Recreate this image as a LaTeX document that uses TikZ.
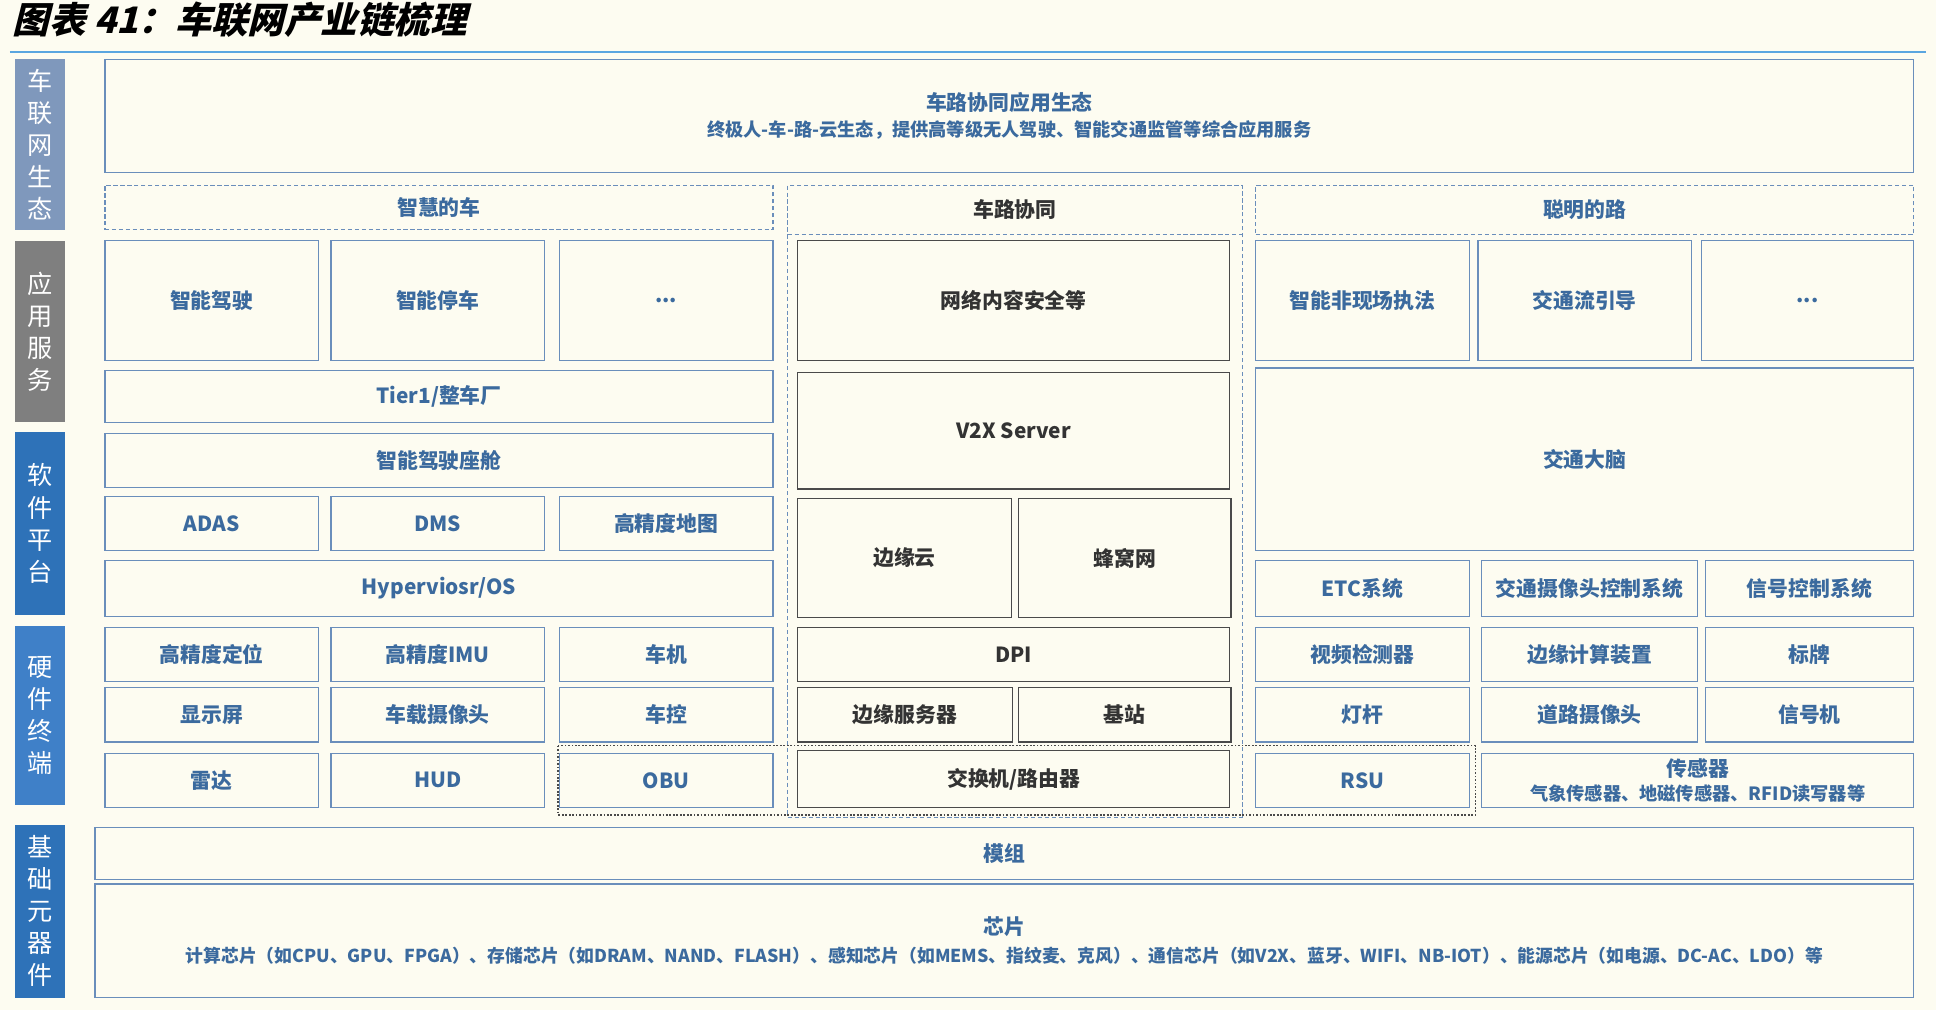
\documentclass[tikz,border=0pt]{standalone}
\usepackage{fontspec}
\setmainfont{Noto Sans CJK SC}
\usetikzlibrary{calc}
\definecolor{bgc}{HTML}{FDFCF1}
\definecolor{bluetxt}{HTML}{3B6A9E}
\definecolor{blueline}{HTML}{6A8EBB}
\definecolor{darkline}{HTML}{4A4A4A}
\definecolor{rule}{HTML}{5AA6E0}
\definecolor{sideA}{HTML}{7F98BC}
\definecolor{sideB}{HTML}{7F7F7F}
\definecolor{sideC}{HTML}{2E72B8}
\definecolor{sideD}{HTML}{3F80C8}
% box from corner (x1,y1) to (x2,y2)
\newcommand{\blk}[7][box]{%
  \pgfmathsetmacro{\bw}{(#5-#3)*0.05}\pgfmathsetmacro{\bh}{(#6-#4)*0.05}%
  \node[#1,minimum width=\bw cm,minimum height=\bh cm] (#2) at ({(#3+#5)/2},{(#4+#6)/2}) {#7};}
\tikzset{
  box/.style={draw=blueline,line width=1.4pt,text=bluetxt,font=\fontsize{24}{28}\selectfont\bfseries,inner sep=0pt,align=center},
  mbox/.style={box,draw=darkline,text=black!80},
  hdr/.style={box,draw=blueline,dash pattern=on 5pt off 3pt},
  side/.style={inner sep=0pt,text=white,font=\fontsize{29}{37}\selectfont,align=center},
}
\begin{document}
\begin{tikzpicture}[x=0.05cm,y=-0.05cm]
\useasboundingbox[fill=bgc] (0,0) rectangle (1568,818);
% title
\node[anchor=west,font=\fontsize{42}{46}\selectfont\bfseries\addfontfeatures{FakeSlant=0.25}] (title) at (8,16) {图表 41：车联网产业链梳理};
\draw[rule,line width=2pt] (8,42) -- (1560,42);
% side bars
\blk[side,fill=sideA]{s1}{12}{48}{53}{186}{车\\联\\网\\生\\态}
\blk[side,fill=sideB]{s2}{12}{195}{53}{342}{应\\用\\服\\务}
\blk[side,fill=sideC]{s3}{12}{350}{53}{498}{软\\件\\平\\台}
\blk[side,fill=sideD]{s4}{12}{507}{53}{652}{硬\\件\\终\\端}
\blk[side,fill=sideC]{s5}{12}{668}{53}{808}{基\\础\\元\\器\\件}
% ecology
\blk{eco}{85}{48}{1550}{140}{车路协同应用生态\\[2pt]{\fontsize{21}{24}\selectfont 终极人-车-路-云生态，提供高等级无人驾驶、智能交通监管等综合应用服务}}
% column headers
\blk[hdr]{car}{85}{150}{626}{186}{智慧的车}
\blk[hdr]{coop}{638}{150}{1006}{662}{}
\draw[blueline,line width=1.4pt,dash pattern=on 5pt off 3pt] (638,190) -- (1006,190);
\node[text=black!80,font=\fontsize{24}{28}\selectfont\bfseries] (cooplbl) at (822,170) {车路协同};
\blk[hdr]{road}{1017}{150}{1550}{190}{聪明的路}
% app row
\blk{a1}{85}{195}{258}{292}{智能驾驶}
\blk{a2}{268}{195}{441}{292}{智能停车}
\blk{a3}{453}{195}{626}{292}{...}
\blk[mbox]{a4}{646}{195}{996}{292}{网络内容安全等}
\blk{a5}{1017}{195}{1190}{292}{智能非现场执法}
\blk{a6}{1197}{195}{1370}{292}{交通流引导}
\blk{a7}{1378}{195}{1550}{292}{...}
% software
\blk{t1}{85}{300}{626}{342}{Tier1/整车厂}
\blk{t2}{85}{351}{626}{395}{智能驾驶座舱}
\blk{t3}{85}{402}{258}{446}{ADAS}
\blk{t4}{268}{402}{441}{446}{DMS}
\blk{t5}{453}{402}{626}{446}{高精度地图}
\blk{t6}{85}{454}{626}{499}{Hyperviosr/OS}
\blk[mbox]{m1}{646}{302}{996}{396}{V2X Server}
\blk[mbox]{m2}{646}{404}{819}{500}{边缘云}
\blk[mbox]{m3}{825}{404}{997}{500}{蜂窝网}
\blk{r1}{1017}{298}{1550}{446}{交通大脑}
\blk{r2}{1017}{454}{1190}{499}{ETC系统}
\blk{r3}{1200}{454}{1375}{499}{交通摄像头控制系统}
\blk{r4}{1381}{454}{1550}{499}{信号控制系统}
% hardware
\blk{h1}{85}{508}{258}{552}{高精度定位}
\blk{h2}{268}{508}{441}{552}{高精度IMU}
\blk{h3}{453}{508}{626}{552}{车机}
\blk{h4}{85}{557}{258}{601}{显示屏}
\blk{h5}{268}{557}{441}{601}{车载摄像头}
\blk{h6}{453}{557}{626}{601}{车控}
\blk{h7}{85}{610}{258}{654}{雷达}
\blk{h8}{268}{610}{441}{654}{HUD}
\blk{h9}{453}{610}{626}{654}{OBU}
\blk[mbox]{m4}{646}{508}{996}{552}{DPI}
\blk[mbox]{m5}{646}{557}{820}{601}{边缘服务器}
\blk[mbox]{m6}{825}{557}{997}{601}{基站}
\blk[mbox]{m7}{646}{608}{996}{654}{交换机/路由器}
\blk{g1}{1017}{508}{1190}{552}{视频检测器}
\blk{g2}{1200}{508}{1375}{552}{边缘计算装置}
\blk{g3}{1381}{508}{1550}{552}{标牌}
\blk{g4}{1017}{557}{1190}{601}{灯杆}
\blk{g5}{1200}{557}{1375}{601}{道路摄像头}
\blk{g6}{1381}{557}{1550}{601}{信号机}
\blk{g7}{1017}{610}{1190}{654}{RSU}
\blk{g8}{1200}{610}{1550}{654}{传感器\\[0pt]{\fontsize{21}{24}\selectfont 气象传感器、地磁传感器、RFID读写器等}}
% OBU-RSU link frame
\draw[darkline,line width=1.4pt,dash pattern=on 2pt off 2pt] (452,604) rectangle (1195,660);
% base components
\blk{b1}{77}{670}{1550}{712}{模组}
\blk{b2}{77}{716}{1550}{808}{芯片\\[4pt]{\fontsize{20.5}{24}\selectfont 计算芯片（如CPU、GPU、FPGA）、存储芯片（如DRAM、NAND、FLASH）、感知芯片（如MEMS、指纹麦、克风）、通信芯片（如V2X、蓝牙、WIFI、NB-IOT）、能源芯片（如电源、DC-AC、LDO）等}}
\end{tikzpicture}
\end{document}
